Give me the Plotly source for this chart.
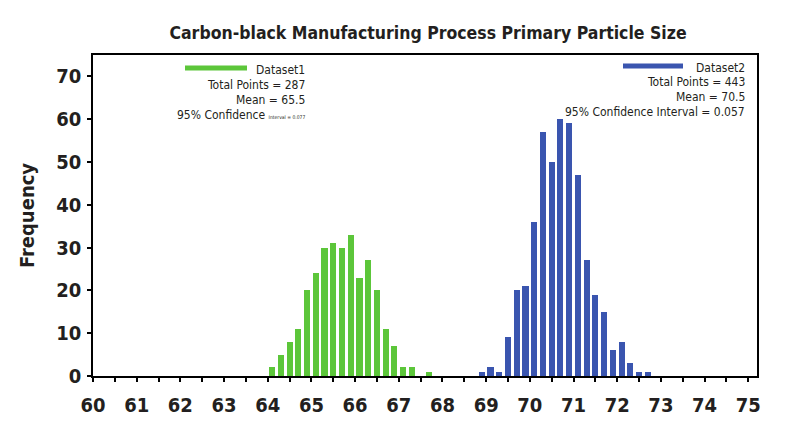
import plotly.graph_objects as go

# ---- data ----
bins1 = [64.1, 64.3, 64.5, 64.7, 64.9, 65.1, 65.3, 65.5, 65.7, 65.9,
         66.1, 66.3, 66.5, 66.7, 66.9, 67.1, 67.3, 67.5, 67.7]
freq1 = [2, 5, 8, 11, 20, 24, 30, 31, 30, 33, 23, 27, 20, 11, 7, 2, 2, 0, 1]

bins2 = [68.9, 69.1, 69.3, 69.5, 69.7, 69.9, 70.1, 70.3, 70.5, 70.7,
         70.9, 71.1, 71.3, 71.5, 71.7, 71.9, 72.1, 72.3, 72.5, 72.7]
freq2 = [1, 2, 1, 9, 20, 21, 36, 57, 50, 60, 59, 47, 27, 19, 15, 6, 8, 3, 1, 1]

x_ticks = [60, 61, 62, 63, 64, 65, 66, 67, 68, 69, 70, 71, 72, 73, 74, 75]
x_labels = ["60", "61", "62", "63", "64", "65", "66", "67", "68", "69",
            "70", "71", "72", "73", "74", "75"]
y_ticks = [0, 10, 20, 30, 40, 50, 60, 70]

title = "Carbon-black Manufacturing Process Primary Particle Size"
legend1 = ["Dataset1", "Total Points = 287", "Mean = 65.5",
           "95% Confidence <span style=\"font-size:5px\">Interval = 0.077</span>"]
legend2 = ["Dataset2", "Total Points = 443", "Mean = 70.5",
           "95% Confidence Interval = 0.057"]

GREEN = "#5CC63A"
BLUE = "#3A55AF"
FONT = "DejaVu Sans Condensed, Liberation Sans Narrow, sans-serif"
TXT = "#231F20"

fig = go.Figure()
fig.add_trace(go.Bar(x=bins1, y=freq1, width=0.14, marker=dict(color=GREEN, line=dict(width=0)),
                     name="Dataset1", showlegend=False))
fig.add_trace(go.Bar(x=bins2, y=freq2, width=0.14, marker=dict(color=BLUE, line=dict(width=0)),
                     name="Dataset2", showlegend=False))

L, R, T, B = 93, 757, 55, 376
W, H = 803, 444


def px(x):
    return (x - L) / (R - L)


def py(y):
    return (B - y) / (B - T)


# legend line samples
fig.add_shape(type="line", xref="paper", yref="paper", x0=px(185), x1=px(247), y0=py(68), y1=py(68),
              line=dict(color=GREEN, width=5))
fig.add_shape(type="line", xref="paper", yref="paper", x0=px(623), x1=px(683), y0=py(66), y1=py(66),
              line=dict(color=BLUE, width=5))

ys1 = [70, 85, 100, 115]
ys2 = [68, 82, 97, 112]
for t, yy in zip(legend1, ys1):
    fig.add_annotation(text=t, xref="paper", yref="paper", x=px(307), y=py(yy),
                       xanchor="right", yanchor="middle", showarrow=False,
                       font=dict(family=FONT, size=12, color=TXT))
for t, yy in zip(legend2, ys2):
    fig.add_annotation(text=t, xref="paper", yref="paper", x=px(747), y=py(yy),
                       xanchor="right", yanchor="middle", showarrow=False,
                       font=dict(family=FONT, size=12, color=TXT))

fig.update_layout(
    width=W, height=H,
    margin=dict(l=L, r=W - R, t=T, b=H - B),
    paper_bgcolor="white", plot_bgcolor="white",
    bargap=0, barmode="overlay",
    title=dict(text="<b>" + title + "</b>", x=428 / W, xanchor="center", y=1 - 33 / H, yanchor="middle",
               font=dict(family=FONT, size=17.5, color=TXT)),
    font=dict(family=FONT, color=TXT),
)
fig.update_xaxes(
    range=[60, 75.2], tickvals=x_ticks, ticktext=["<b>%s</b>" % s for s in x_labels],
    ticks="outside", ticklen=4, tickwidth=1.5, tickcolor="black",
    minor=dict(dtick=0.5, tick0=60, ticks="outside", ticklen=4, tickwidth=1.5, tickcolor="black"),
    showline=True, linecolor="black", linewidth=1.5, mirror=True,
    showgrid=False, zeroline=False, ticklabelstandoff=6,
    tickfont=dict(family=FONT, size=20, color=TXT),
)
fig.update_yaxes(
    range=[0, 75], tickvals=y_ticks, ticktext=["<b>%d</b>" % v for v in y_ticks],
    ticks="outside", ticklen=4, tickwidth=1.5, tickcolor="black",
    showline=True, linecolor="black", linewidth=1.5, mirror=True,
    showgrid=False, zeroline=False, ticklabelstandoff=2,
    tickfont=dict(family=FONT, size=20, color=TXT),
    title=dict(text="<b>Frequency</b>", font=dict(family=FONT, size=20, color=TXT), standoff=16),
)

fig.write_html("out.html")
